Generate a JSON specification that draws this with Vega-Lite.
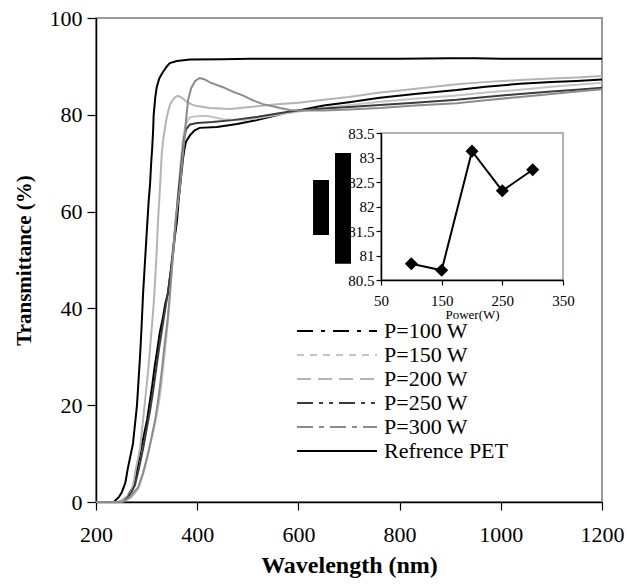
{
 "$schema": "https://vega.github.io/schema/vega-lite/v6.json",
 "width": 506,
 "height": 484,
 "autosize": {"type": "none"},
 "padding": {"left": 96, "top": 18, "right": 27, "bottom": 82},
 "background": "white",
 "config": {
  "font": "Liberation Serif",
  "view": {"stroke": "#999999", "strokeWidth": 2},
  "axis": {"labelFont": "Liberation Serif", "titleFont": "Liberation Serif", "labelColor": "#000", "titleColor": "#000", "domainColor": "#000", "tickColor": "#000", "grid": false, "domainWidth": 1.5, "tickWidth": 1.2, "labelFlush": false},
  "legend": {"symbolType": "M-1,0H7", "symbolSize": 400, "symbolStrokeWidth": 2, "symbolFillColor": "transparent", "labelFont": "Liberation Serif", "labelFontSize": 22, "labelColor": "#000", "labelOffset": 66, "rowPadding": 2, "labelLimit": 0, "padding": 0}
 },
 "datasets": {
  "spectra": [
   {"series":"Refrence PET","wl":200,"t":0},{"series":"Refrence PET","wl":235,"t":0},{"series":"Refrence PET","wl":245,"t":1},{"series":"Refrence PET","wl":251,"t":2},{"series":"Refrence PET","wl":258,"t":4},{"series":"Refrence PET","wl":263,"t":7},{"series":"Refrence PET","wl":268,"t":9.5},{"series":"Refrence PET","wl":273,"t":12},{"series":"Refrence PET","wl":277,"t":16},{"series":"Refrence PET","wl":281,"t":20},{"series":"Refrence PET","wl":284,"t":25},{"series":"Refrence PET","wl":287,"t":30},{"series":"Refrence PET","wl":290,"t":36},{"series":"Refrence PET","wl":293,"t":43},{"series":"Refrence PET","wl":297,"t":50},{"series":"Refrence PET","wl":301,"t":57},{"series":"Refrence PET","wl":304,"t":62},{"series":"Refrence PET","wl":307,"t":66},{"series":"Refrence PET","wl":309,"t":70},{"series":"Refrence PET","wl":311,"t":73},{"series":"Refrence PET","wl":313,"t":77},{"series":"Refrence PET","wl":314,"t":80},{"series":"Refrence PET","wl":317,"t":83.5},{"series":"Refrence PET","wl":320,"t":85.7},{"series":"Refrence PET","wl":325,"t":87.5},{"series":"Refrence PET","wl":332,"t":88.8},{"series":"Refrence PET","wl":340,"t":90},{"series":"Refrence PET","wl":346,"t":90.7},{"series":"Refrence PET","wl":360,"t":91.1},{"series":"Refrence PET","wl":386,"t":91.4},{"series":"Refrence PET","wl":450,"t":91.5},{"series":"Refrence PET","wl":504,"t":91.6},{"series":"Refrence PET","wl":600,"t":91.6},{"series":"Refrence PET","wl":700,"t":91.6},{"series":"Refrence PET","wl":800,"t":91.6},{"series":"Refrence PET","wl":900,"t":91.7},{"series":"Refrence PET","wl":950,"t":91.7},{"series":"Refrence PET","wl":1000,"t":91.6},{"series":"Refrence PET","wl":1100,"t":91.6},{"series":"Refrence PET","wl":1200,"t":91.6},

   {"series":"P=100 W","wl":200,"t":0},{"series":"P=100 W","wl":255,"t":0},{"series":"P=100 W","wl":262,"t":1},{"series":"P=100 W","wl":267,"t":2},{"series":"P=100 W","wl":273,"t":3},{"series":"P=100 W","wl":280,"t":6},{"series":"P=100 W","wl":287,"t":10},{"series":"P=100 W","wl":294,"t":13.5},{"series":"P=100 W","wl":301,"t":17},{"series":"P=100 W","wl":306,"t":20.5},{"series":"P=100 W","wl":311,"t":24},{"series":"P=100 W","wl":316,"t":28},{"series":"P=100 W","wl":320.5,"t":31},{"series":"P=100 W","wl":326,"t":35},{"series":"P=100 W","wl":332,"t":38},{"series":"P=100 W","wl":337,"t":41},{"series":"P=100 W","wl":342,"t":43},{"series":"P=100 W","wl":347,"t":47},{"series":"P=100 W","wl":352,"t":51},{"series":"P=100 W","wl":356,"t":55},{"series":"P=100 W","wl":360,"t":58},{"series":"P=100 W","wl":363,"t":62},{"series":"P=100 W","wl":366,"t":65},{"series":"P=100 W","wl":369,"t":68},{"series":"P=100 W","wl":372,"t":71},{"series":"P=100 W","wl":375,"t":73},{"series":"P=100 W","wl":378,"t":74.5},{"series":"P=100 W","wl":386,"t":75.8},{"series":"P=100 W","wl":395,"t":76.8},{"series":"P=100 W","wl":405,"t":77.3},{"series":"P=100 W","wl":439,"t":77.5},{"series":"P=100 W","wl":479,"t":78.1},{"series":"P=100 W","wl":518,"t":78.9},{"series":"P=100 W","wl":577,"t":80.4},{"series":"P=100 W","wl":600,"t":80.9},{"series":"P=100 W","wl":650,"t":81.9},{"series":"P=100 W","wl":700,"t":82.6},{"series":"P=100 W","wl":761,"t":83.5},{"series":"P=100 W","wl":830,"t":84.3},{"series":"P=100 W","wl":913,"t":85.1},{"series":"P=100 W","wl":970,"t":85.8},{"series":"P=100 W","wl":1038,"t":86.4},{"series":"P=100 W","wl":1100,"t":86.8},{"series":"P=100 W","wl":1150,"t":87},{"series":"P=100 W","wl":1200,"t":87.3},

   {"series":"P=150 W","wl":200,"t":0},{"series":"P=150 W","wl":253,"t":0},{"series":"P=150 W","wl":262,"t":0.5},{"series":"P=150 W","wl":270,"t":1},{"series":"P=150 W","wl":278,"t":2},{"series":"P=150 W","wl":285,"t":3},{"series":"P=150 W","wl":295,"t":6.5},{"series":"P=150 W","wl":305,"t":11},{"series":"P=150 W","wl":312,"t":14},{"series":"P=150 W","wl":319,"t":17.5},{"series":"P=150 W","wl":325,"t":21},{"series":"P=150 W","wl":330,"t":25},{"series":"P=150 W","wl":335,"t":30},{"series":"P=150 W","wl":340,"t":35},{"series":"P=150 W","wl":345,"t":41},{"series":"P=150 W","wl":350,"t":48},{"series":"P=150 W","wl":355,"t":55},{"series":"P=150 W","wl":360,"t":61},{"series":"P=150 W","wl":364,"t":66},{"series":"P=150 W","wl":368,"t":71},{"series":"P=150 W","wl":372,"t":75},{"series":"P=150 W","wl":376,"t":77.5},{"series":"P=150 W","wl":382,"t":79},{"series":"P=150 W","wl":386,"t":79.5},{"series":"P=150 W","wl":400,"t":79.7},{"series":"P=150 W","wl":419,"t":79.8},{"series":"P=150 W","wl":451,"t":79.1},{"series":"P=150 W","wl":490,"t":78.9},{"series":"P=150 W","wl":530,"t":79.5},{"series":"P=150 W","wl":570,"t":80.2},{"series":"P=150 W","wl":600,"t":80.7},{"series":"P=150 W","wl":650,"t":81.4},{"series":"P=150 W","wl":700,"t":82},{"series":"P=150 W","wl":761,"t":82.7},{"series":"P=150 W","wl":830,"t":83.3},{"series":"P=150 W","wl":913,"t":84},{"series":"P=150 W","wl":970,"t":84.6},{"series":"P=150 W","wl":1038,"t":85.2},{"series":"P=150 W","wl":1100,"t":85.8},{"series":"P=150 W","wl":1150,"t":86.2},{"series":"P=150 W","wl":1200,"t":86.6},

   {"series":"P=200 W","wl":200,"t":0},{"series":"P=200 W","wl":243,"t":0},{"series":"P=200 W","wl":252,"t":0.5},{"series":"P=200 W","wl":259,"t":1},{"series":"P=200 W","wl":265,"t":1.5},{"series":"P=200 W","wl":271,"t":2.5},{"series":"P=200 W","wl":275,"t":4.5},{"series":"P=200 W","wl":279,"t":7},{"series":"P=200 W","wl":283,"t":9},{"series":"P=200 W","wl":287,"t":11},{"series":"P=200 W","wl":291,"t":15},{"series":"P=200 W","wl":295,"t":19},{"series":"P=200 W","wl":299,"t":23},{"series":"P=200 W","wl":303,"t":27},{"series":"P=200 W","wl":307,"t":32},{"series":"P=200 W","wl":311,"t":37},{"series":"P=200 W","wl":314,"t":41},{"series":"P=200 W","wl":317,"t":46},{"series":"P=200 W","wl":320,"t":52},{"series":"P=200 W","wl":322.5,"t":58},{"series":"P=200 W","wl":326.5,"t":65},{"series":"P=200 W","wl":330,"t":72},{"series":"P=200 W","wl":333,"t":75},{"series":"P=200 W","wl":336,"t":77},{"series":"P=200 W","wl":339,"t":79},{"series":"P=200 W","wl":342,"t":80.5},{"series":"P=200 W","wl":346,"t":82},{"series":"P=200 W","wl":350,"t":82.8},{"series":"P=200 W","wl":356,"t":83.6},{"series":"P=200 W","wl":362,"t":83.9},{"series":"P=200 W","wl":370,"t":83.5},{"series":"P=200 W","wl":380,"t":82.6},{"series":"P=200 W","wl":390,"t":82.1},{"series":"P=200 W","wl":400,"t":81.8},{"series":"P=200 W","wl":425,"t":81.4},{"series":"P=200 W","wl":465,"t":81.2},{"series":"P=200 W","wl":504,"t":81.6},{"series":"P=200 W","wl":558,"t":82.2},{"series":"P=200 W","wl":600,"t":82.5},{"series":"P=200 W","wl":650,"t":83.1},{"series":"P=200 W","wl":700,"t":83.7},{"series":"P=200 W","wl":761,"t":84.6},{"series":"P=200 W","wl":800,"t":85},{"series":"P=200 W","wl":850,"t":85.6},{"series":"P=200 W","wl":913,"t":86.3},{"series":"P=200 W","wl":960,"t":86.7},{"series":"P=200 W","wl":1038,"t":87.2},{"series":"P=200 W","wl":1100,"t":87.5},{"series":"P=200 W","wl":1150,"t":87.7},{"series":"P=200 W","wl":1200,"t":88},

   {"series":"P=250 W","wl":200,"t":0},{"series":"P=250 W","wl":254,"t":0},{"series":"P=250 W","wl":263,"t":1},{"series":"P=250 W","wl":270,"t":2},{"series":"P=250 W","wl":277,"t":3.5},{"series":"P=250 W","wl":285,"t":7},{"series":"P=250 W","wl":293,"t":11},{"series":"P=250 W","wl":300,"t":15},{"series":"P=250 W","wl":307,"t":19},{"series":"P=250 W","wl":313,"t":23},{"series":"P=250 W","wl":319,"t":27.5},{"series":"P=250 W","wl":325,"t":32},{"series":"P=250 W","wl":331,"t":36},{"series":"P=250 W","wl":337,"t":40},{"series":"P=250 W","wl":343,"t":44},{"series":"P=250 W","wl":348,"t":48},{"series":"P=250 W","wl":353,"t":53},{"series":"P=250 W","wl":358,"t":58},{"series":"P=250 W","wl":362,"t":63},{"series":"P=250 W","wl":366,"t":67},{"series":"P=250 W","wl":370,"t":71},{"series":"P=250 W","wl":374,"t":75},{"series":"P=250 W","wl":378,"t":77},{"series":"P=250 W","wl":386,"t":78},{"series":"P=250 W","wl":400,"t":78.3},{"series":"P=250 W","wl":430,"t":78.5},{"series":"P=250 W","wl":470,"t":78.9},{"series":"P=250 W","wl":520,"t":79.6},{"series":"P=250 W","wl":577,"t":80.6},{"series":"P=250 W","wl":600,"t":80.9},{"series":"P=250 W","wl":650,"t":81.3},{"series":"P=250 W","wl":700,"t":81.6},{"series":"P=250 W","wl":761,"t":82},{"series":"P=250 W","wl":830,"t":82.5},{"series":"P=250 W","wl":913,"t":83.1},{"series":"P=250 W","wl":970,"t":83.7},{"series":"P=250 W","wl":1038,"t":84.3},{"series":"P=250 W","wl":1100,"t":84.8},{"series":"P=250 W","wl":1150,"t":85.2},{"series":"P=250 W","wl":1200,"t":85.6},

   {"series":"P=300 W","wl":200,"t":0},{"series":"P=300 W","wl":251,"t":0},{"series":"P=300 W","wl":260,"t":0.5},{"series":"P=300 W","wl":267,"t":1},{"series":"P=300 W","wl":275,"t":2},{"series":"P=300 W","wl":283,"t":3},{"series":"P=300 W","wl":293,"t":6},{"series":"P=300 W","wl":303,"t":10},{"series":"P=300 W","wl":310,"t":13.5},{"series":"P=300 W","wl":317,"t":17},{"series":"P=300 W","wl":322,"t":20.5},{"series":"P=300 W","wl":326.5,"t":24},{"series":"P=300 W","wl":331,"t":28},{"series":"P=300 W","wl":336,"t":33},{"series":"P=300 W","wl":342,"t":38},{"series":"P=300 W","wl":346,"t":43},{"series":"P=300 W","wl":352,"t":51},{"series":"P=300 W","wl":358,"t":59},{"series":"P=300 W","wl":362,"t":62},{"series":"P=300 W","wl":366,"t":65},{"series":"P=300 W","wl":372,"t":72},{"series":"P=300 W","wl":378,"t":79},{"series":"P=300 W","wl":382,"t":83},{"series":"P=300 W","wl":388,"t":85.5},{"series":"P=300 W","wl":396,"t":87},{"series":"P=300 W","wl":405,"t":87.6},{"series":"P=300 W","wl":415,"t":87.3},{"series":"P=300 W","wl":425,"t":86.7},{"series":"P=300 W","wl":451,"t":85.7},{"series":"P=300 W","wl":470,"t":84.8},{"series":"P=300 W","wl":490,"t":84},{"series":"P=300 W","wl":510,"t":83},{"series":"P=300 W","wl":530,"t":82.2},{"series":"P=300 W","wl":564,"t":81.4},{"series":"P=300 W","wl":583,"t":81},{"series":"P=300 W","wl":600,"t":80.9},{"series":"P=300 W","wl":650,"t":80.9},{"series":"P=300 W","wl":700,"t":81.1},{"series":"P=300 W","wl":761,"t":81.4},{"series":"P=300 W","wl":830,"t":81.9},{"series":"P=300 W","wl":913,"t":82.4},{"series":"P=300 W","wl":970,"t":83},{"series":"P=300 W","wl":1038,"t":83.7},{"series":"P=300 W","wl":1100,"t":84.3},{"series":"P=300 W","wl":1150,"t":84.8},{"series":"P=300 W","wl":1200,"t":85.3}
  ],
  "inset": [
   {"power":100,"t":80.83},{"power":150,"t":80.7},{"power":200,"t":83.13},{"power":250,"t":82.32},{"power":300,"t":82.75}
  ]
 },
 "layer": [
  {
   "data": {"name": "spectra"},
   "layer": [
    {
     "mark": {"type": "line", "strokeWidth": 2},
     "encoding": {
      "x": {"field": "wl", "type": "quantitative", "scale": {"domain": [200, 1200], "nice": false, "zero": false},
            "axis": {"title": "Wavelength (nm)", "values": [200, 400, 600, 800, 1000, 1200], "format": "d", "labelFontSize": 22, "titleFontSize": 24, "titleFontWeight": "bold", "tickSize": 8, "labelPadding": 14, "titlePadding": 8}},
      "y": {"field": "t", "type": "quantitative", "scale": {"domain": [0, 100], "nice": false},
            "axis": {"title": "Transmittance (%)", "values": [0, 20, 40, 60, 80, 100], "format": "d", "labelFontSize": 22, "titleFontSize": 21, "titleFontWeight": "bold", "tickSize": 9, "labelPadding": 5, "titlePadding": 15}},
      "color": {"field": "series", "type": "nominal",
                "scale": {"domain": ["P=100 W", "P=150 W", "P=200 W", "P=250 W", "P=300 W", "Refrence PET"], "range": ["#000000", "#c4c4c4", "#b4b4b4", "#3c3c3c", "#8c8c8c", "#000000"]},
                "legend": {"title": null, "orient": "none", "legendX": 200, "legendY": 302}}
     }
    },
    {
     "transform": [{"filter": "datum.wl == 200"}],
     "mark": {"type": "line", "strokeWidth": 2},
     "encoding": {
      "x": {"field": "wl", "type": "quantitative"},
      "y": {"field": "t", "type": "quantitative"},
      "color": {"field": "series", "type": "nominal", "legend": {"title": null, "orient": "none", "legendX": 200, "legendY": 302}},
      "strokeDash": {"field": "series", "type": "nominal",
                     "scale": {"domain": ["P=100 W", "P=150 W", "P=200 W", "P=250 W", "P=300 W", "Refrence PET"], "range": [[16, 8, 4, 8], [7, 6], [14, 7], [16, 6, 4, 6, 4, 6], [16, 6, 5, 6], [1, 0]]},
                     "legend": {"title": null, "orient": "none", "legendX": 200, "legendY": 302}}
     }
    }
   ]
  },
  {
   "layer": [
    {
     "data": {"values": [{}]},
     "mark": {"type": "rect", "fill": "white", "stroke": "#999999", "strokeWidth": 1.5},
     "encoding": {
      "x": {"datum": 50, "type": "quantitative"},
      "x2": {"datum": 350},
      "y": {"datum": 80.5, "type": "quantitative"},
      "y2": {"datum": 83.5}
     }
    },
    {
     "data": {"values": [{}]},
     "mark": {"type": "rect", "fill": "black"},
     "encoding": {
      "x": {"datum": -62, "type": "quantitative"},
      "x2": {"datum": -35.7},
      "y": {"datum": 81.42, "type": "quantitative"},
      "y2": {"datum": 82.54}
     }
    },
    {
     "data": {"values": [{}]},
     "mark": {"type": "rect", "fill": "black"},
     "encoding": {
      "x": {"datum": -25.8, "type": "quantitative"},
      "x2": {"datum": 0.5},
      "y": {"datum": 80.83, "type": "quantitative"},
      "y2": {"datum": 83.09}
     }
    },
    {
     "data": {"name": "inset"},
     "mark": {"type": "line", "color": "black", "strokeWidth": 2},
     "encoding": {
      "x": {"field": "power", "type": "quantitative", "scale": {"domain": [50, 350], "range": [285, 467], "nice": false, "zero": false},
            "axis": {"orient": "bottom", "offset": -222, "values": [50, 150, 250, 350], "title": "Power(W)", "titleFontSize": 13, "titleFontWeight": "normal", "titlePadding": 0, "labelFontSize": 15, "tickSize": 5, "labelPadding": 8, "zindex": 1}},
      "y": {"field": "t", "type": "quantitative", "scale": {"domain": [80.5, 83.5], "range": [262, 115], "nice": false, "zero": false},
            "axis": {"orient": "left", "offset": -285, "values": [80.5, 81, 81.5, 82, 82.5, 83, 83.5], "format": "~g", "title": null, "labelFontSize": 15, "tickSize": 5, "labelPadding": 2, "zindex": 1}}
     }
    },
    {
     "data": {"name": "inset"},
     "mark": {"type": "point", "shape": "diamond", "filled": true, "color": "black", "size": 170, "opacity": 1},
     "encoding": {
      "x": {"field": "power", "type": "quantitative"},
      "y": {"field": "t", "type": "quantitative"}
     }
    }
   ]
  }
 ],
 "resolve": {"scale": {"x": "independent", "y": "independent"}, "axis": {"x": "independent", "y": "independent"}}
}
